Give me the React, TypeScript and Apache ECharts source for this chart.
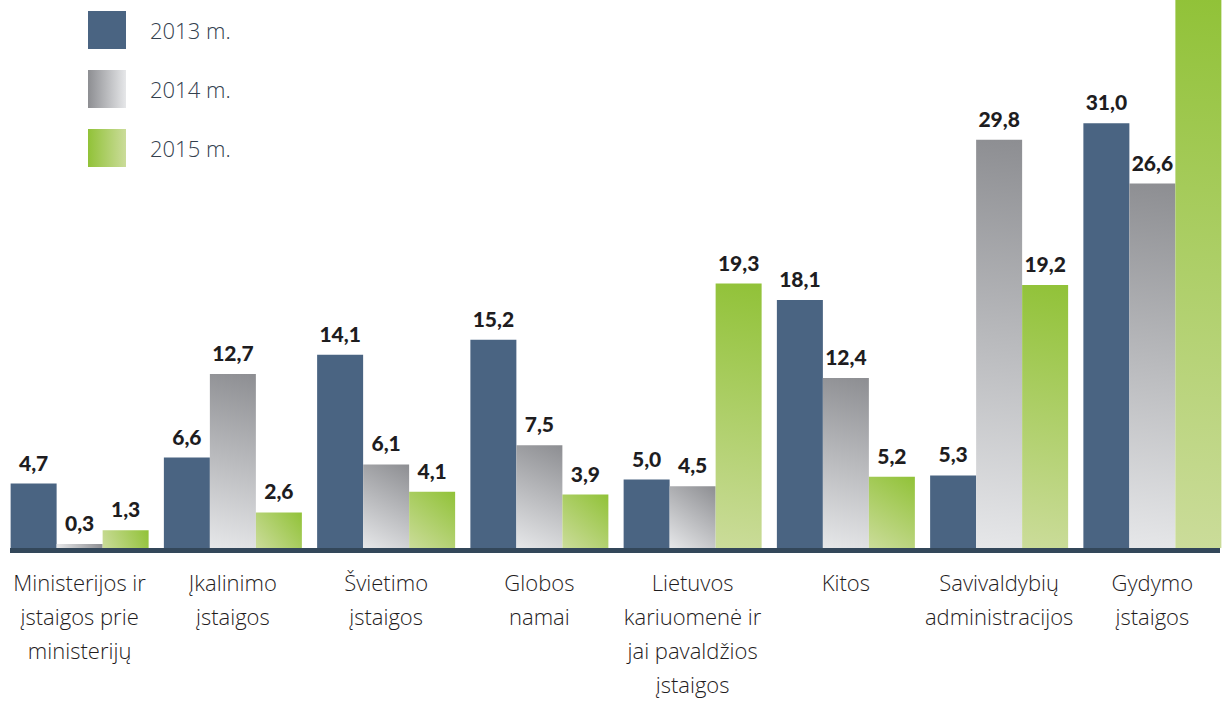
import React, { useEffect, useRef } from "react";
import * as echarts from "echarts";

const categories = [
  "Ministerijos ir\nįstaigos prie\nministerijų",
  "Įkalinimo\nįstaigos",
  "Švietimo\nįstaigos",
  "Globos\nnamai",
  "Lietuvos\nkariuomenė ir\njai pavaldžios\nįstaigos",
  "Kitos",
  "Savivaldybių\nadministracijos",
  "Gydymo\nįstaigos",
];
const seriesNames = ["2013 m.", "2014 m.", "2015 m."];
const values2013 = [4.7, 6.6, 14.1, 15.2, 5.0, 18.1, 5.3, 31.0];
const values2014 = [0.3, 12.7, 6.1, 7.5, 4.5, 12.4, 29.8, 26.6];
const values2015 = [1.3, 2.6, 4.1, 3.9, 19.3, 5.2, 19.2, 42.0];
const yMax = 40;

const BAR_W = 46;
const PLOT_H = 548;
const PX_PER_UNIT = PLOT_H / yMax;

function diagGradient(v: number, top: string, bottom: string) {
  const h = Math.max(Math.min(v, yMax) * PX_PER_UNIT, 1);
  const w = BAR_W;
  const a = -w * w;
  const b = h * h;
  const s = (w * w + h * h) / (w ** 4 + h ** 4);
  return new echarts.graphic.LinearGradient(1, 0, 1 + a * s, b * s, [
    { offset: 0, color: top },
    { offset: 1, color: bottom },
  ]);
}

const fmt = (p: any) => Number(p.value).toFixed(1).replace(".", ",");

export default function App() {
  const ref = useRef<HTMLDivElement>(null);
  useEffect(() => {
    if (!ref.current) return;
    const chart = echarts.init(ref.current, undefined, { renderer: "svg" });
    const labelStyle = {
      show: true,
      position: "top" as const,
      distance: 11,
      fontFamily: "Lato",
      fontWeight: 900,
      fontSize: 21,
      color: "#1e1d1f",
      formatter: fmt,
    };
    const grayTop = "#8d8e92";
    const grayBottom = "#e6e7e9";
    const greenTop = "#91c238";
    const greenBottom = "#cbdc9a";
    chart.setOption({
      animation: false,
      grid: {
        left: 3,
        width: 1226,
        top: 0,
        bottom: 701 - PLOT_H,
        outerBoundsMode: "none",
        containLabel: false,
      },
      legend: {
        left: 83,
        top: 6,
        orient: "vertical",
        itemWidth: 38,
        itemHeight: 38,
        itemGap: 21,
        icon: "rect",
        selectedMode: false,
        textStyle: {
          fontFamily: "Open Sans",
          fontWeight: 300,
          fontSize: 22,
          color: "#33404e",
          padding: [0, 0, 0, 19],
        },
        data: [
          { name: seriesNames[0], itemStyle: { color: "#4a6482" } },
          {
            name: seriesNames[1],
            itemStyle: {
              color: new echarts.graphic.LinearGradient(0, 0, 1, 0, [
                { offset: 0, color: grayTop },
                { offset: 1, color: grayBottom },
              ]),
            },
          },
          {
            name: seriesNames[2],
            itemStyle: {
              color: new echarts.graphic.LinearGradient(0, 0, 1, 0, [
                { offset: 0, color: greenTop },
                { offset: 1, color: greenBottom },
              ]),
            },
          },
        ],
      },
      xAxis: {
        type: "category",
        data: categories,
        axisLine: { show: false },
        axisTick: { show: false },
        axisLabel: {
          interval: 0,
          margin: 17,
          fontFamily: "Open Sans",
          fontWeight: 300,
          fontSize: 22,
          lineHeight: 34,
          color: "#1f1c1d",
        },
      },
      yAxis: {
        type: "value",
        min: 0,
        max: yMax,
        show: false,
        splitLine: { show: false },
      },
      graphic: [
        {
          type: "rect",
          shape: { x: 10, y: PLOT_H, width: 1210, height: 5 },
          style: { fill: "#33475a" },
          z: 10,
        },
      ],
      series: [
        {
          name: seriesNames[0],
          type: "bar",
          barWidth: BAR_W,
          barGap: "0%",
          itemStyle: { color: "#4a6482" },
          label: labelStyle,
          data: values2013,
        },
        {
          name: seriesNames[1],
          type: "bar",
          barWidth: BAR_W,
          barGap: "0%",
          itemStyle: { color: grayTop },
          label: labelStyle,
          data: values2014.map((v) => ({
            value: v,
            itemStyle: { color: diagGradient(v, grayTop, grayBottom) },
          })),
        },
        {
          name: seriesNames[2],
          type: "bar",
          barWidth: BAR_W,
          barGap: "0%",
          itemStyle: { color: greenTop },
          label: labelStyle,
          data: values2015.map((v) => ({
            value: v,
            itemStyle: { color: diagGradient(v, greenTop, greenBottom) },
            label: { show: v <= yMax },
          })),
        },
      ],
    });
    return () => chart.dispose();
  }, []);
  return (
    <div
      ref={ref}
      style={{ position: "absolute", left: 0, top: 0, width: 1224, height: 701 }}
    />
  );
}
